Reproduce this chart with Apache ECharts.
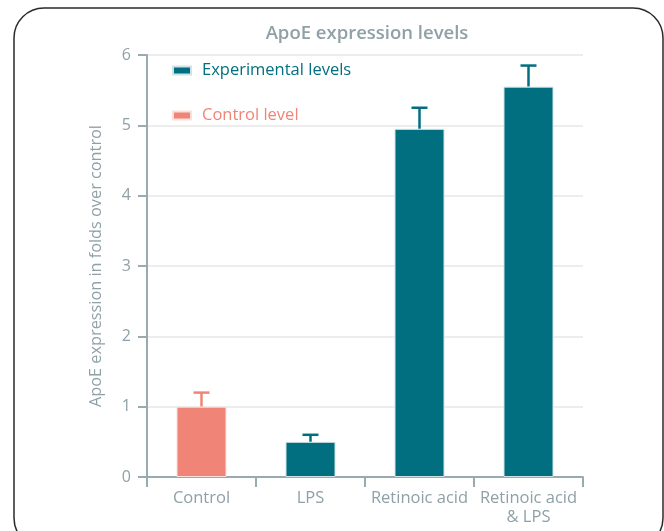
<!DOCTYPE html>
<html lang="en">
<head>
    <meta charset="UTF-8">
    <title>ApoE expression levels</title>
    <script src="https://cdn.jsdelivr.net/npm/echarts@6/dist/echarts.min.js"></script>
    <style>
        html, body { margin: 0; padding: 0; background: #fff; }
    </style>
</head>
<body>
<div id="main" style="width: 664px;height: 531px"></div>
<script>
    // data
    var categories = ['Control', 'LPS', 'Retinoic acid', 'Retinoic acid\n& LPS'];
    var controlValues = [1.0, '-', '-', '-'];
    var experimentalValues = ['-', 0.5, 4.95, 5.55];
    var errorTops = [1.2, 0.6, 5.25, 5.85];
    var yTicks = [0, 1, 2, 3, 4, 5, 6];

    var teal = '#026f80';
    var salmon = '#f08577';
    var grey = '#8fa1a7';
    var font = 'Open Sans';

    var myChart = echarts.init(document.getElementById('main'));

    var errorData = errorTops.map(function (top, i) {
        var mean = controlValues[i] !== '-' ? controlValues[i] : experimentalValues[i];
        return [i, mean, top];
    });

    var option = {
        animation: false,
        textStyle: { fontFamily: font },
        title: {
            text: 'ApoE expression levels',
            left: 362,
            textAlign: 'center',
            top: 19,
            textStyle: { color: grey, fontSize: 18.5, fontWeight: 600, fontFamily: font }
        },
        legend: {
            orient: 'vertical',
            left: 167,
            top: 57,
            itemWidth: 18,
            itemHeight: 8,
            itemGap: 28,
            icon: 'rect',
            data: [
                { name: 'Experimental levels', textStyle: { color: teal } },
                { name: 'Control level', textStyle: { color: salmon } }
            ],
            textStyle: { fontSize: 16.5, fontFamily: font, padding: [0, 0, 0, 6] }
        },
        grid: { left: 147, right: 81, top: 55, bottom: 54 },
        xAxis: {
            type: 'category',
            data: categories,
            axisLine: { lineStyle: { color: '#9aabb0', width: 2 } },
            axisTick: { show: true, interval: 0, length: 10, lineStyle: { color: '#9aabb0', width: 2 } },
            axisLabel: { interval: 0, color: grey, fontSize: 16.5, margin: 12, lineHeight: 19, fontFamily: font }
        },
        yAxis: {
            type: 'value',
            min: 0,
            max: yTicks[yTicks.length - 1],
            interval: 1,
            name: 'ApoE expression in folds over control',
            nameLocation: 'middle',
            nameGap: 43,
            nameTextStyle: { color: grey, fontSize: 16.3, fontFamily: font },
            axisLine: { show: true, lineStyle: { color: '#9aabb0', width: 2 } },
            axisTick: { show: true, length: 9, lineStyle: { color: '#9aabb0', width: 2 } },
            axisLabel: { color: grey, fontSize: 16, margin: 16, fontFamily: font },
            splitLine: { lineStyle: { color: '#e6e8e8', width: 1.5 } }
        },
        series: [
            {
                name: 'Experimental levels',
                type: 'bar',
                data: experimentalValues,
                barWidth: 50,
                barGap: '-100%',
                itemStyle: { color: teal, borderColor: '#cfe3e6', borderWidth: 1 }
            },
            {
                name: 'Control level',
                type: 'bar',
                data: controlValues,
                barWidth: 50,
                barGap: '-100%',
                itemStyle: { color: salmon, borderColor: '#fbe0dc', borderWidth: 1 }
            },
            {
                name: 'error',
                type: 'custom',
                data: errorData,
                z: 1,
                renderItem: function (params, api) {
                    var idx = api.value(0);
                    var base = api.coord([idx, api.value(1)]);
                    var top = api.coord([idx, api.value(2)]);
                    var color = controlValues[idx] !== '-' ? salmon : teal;
                    var half = 8;
                    var style = { stroke: color, lineWidth: 2.5 };
                    return {
                        type: 'group',
                        children: [
                            { type: 'line', shape: { x1: base[0], y1: base[1], x2: top[0], y2: top[1] }, style: style },
                            { type: 'line', shape: { x1: top[0] - half, y1: top[1], x2: top[0] + half, y2: top[1] }, style: style }
                        ]
                    };
                }
            }
        ],
        graphic: [
            {
                type: 'rect',
                shape: { x: 14, y: 8, width: 649, height: 540, r: 30 },
                style: { fill: 'none', stroke: '#2a2a2a', lineWidth: 1.5 },
                silent: true
            }
        ]
    };
    option && myChart.setOption(option);
</script>
</body>
</html>
